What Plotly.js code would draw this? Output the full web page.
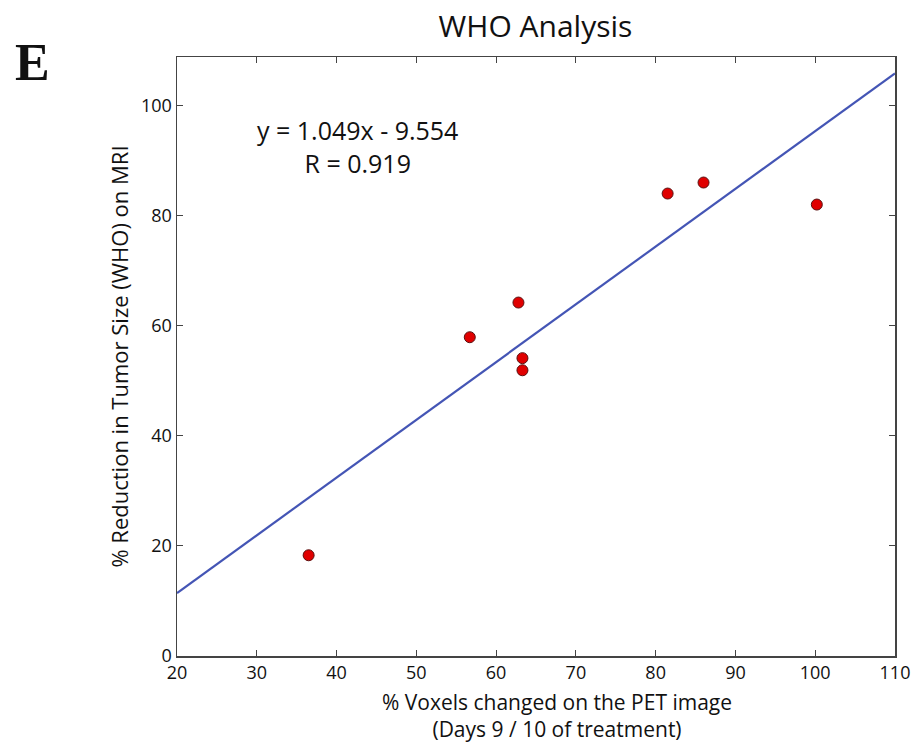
<!DOCTYPE html>
<html>
<head>
<meta charset="utf-8">
<script src="https://cdn.plot.ly/plotly-3.0.1.min.js"></script>
<style>html,body{margin:0;padding:0;background:#fff;}#chart{width:918px;height:744px;}</style>
</head>
<body>
<div id="chart"></div>
<script>
// Data
var voxelsChanged = [36.5, 56.7, 62.8, 63.3, 63.3, 81.5, 86.0, 100.2];
var tumorReduction = [18.3, 57.9, 64.2, 54.1, 51.9, 84.0, 86.0, 82.0];
var fitSlope = 1.049;
var fitIntercept = -9.554;
var fitR = 0.919;
var fitXRange = [20, 110];
var xTicks = [20, 30, 40, 50, 60, 70, 80, 90, 100, 110];
var yTicks = [0, 20, 40, 60, 80, 100];

var fitY = fitXRange.map(function (x) { return fitSlope * x + fitIntercept; });

var font = "Open Sans, DejaVu Sans, sans-serif";
var axisCommon = {
  showgrid: false, zeroline: false,
  showline: true, mirror: "allticks", linecolor: "#444", linewidth: 1.5,
  ticks: "inside", ticklen: 6, tickcolor: "#444", tickwidth: 1.2,
  tickfont: {family: font, size: 18, color: "#111"}
};

var traces = [
  {x: fitXRange, y: fitY, mode: "lines", type: "scatter",
   line: {color: "#4455b5", width: 2.2}, hoverinfo: "skip"},
  {x: voxelsChanged, y: tumorReduction, mode: "markers", type: "scatter",
   marker: {color: "#e00000", size: 11, line: {color: "#5a1010", width: 1}}}
];

var plotL = 177, plotR = 895, plotT = 57, plotB = 656;
var pw = plotR - plotL, ph = plotB - plotT;

var layout = {
  width: 918, height: 744,
  margin: {l: plotL, r: 918 - plotR, t: plotT, b: 744 - plotB},
  paper_bgcolor: "#fff", plot_bgcolor: "#fff",
  showlegend: false,
  title: {text: "WHO Analysis", font: {family: font, size: 30, color: "#111"},
          x: 0.5833, xanchor: "center", y: 1 - 26 / 744, yanchor: "middle"},
  xaxis: Object.assign({}, axisCommon, {
    range: [20, 110], tickvals: xTicks, ticktext: xTicks.map(String)
  }),
  yaxis: Object.assign({}, axisCommon, {
    range: [0, 108.8], tickvals: yTicks, ticktext: yTicks.map(String),
    title: {text: "% Reduction in Tumor Size (WHO) on MRI",
            font: {family: font, size: 22, color: "#111"}, standoff: 6}
  }),
  annotations: [
    {x: 42.65, y: 92.6, xref: "x", yref: "y", showarrow: false,
     text: "y = " + fitSlope.toFixed(3) + "x - " + Math.abs(fitIntercept).toFixed(3) +
           "<br>R = " + fitR.toFixed(3),
     align: "center",
     font: {family: font, size: 25, color: "#111"}, xanchor: "center", yanchor: "middle"},
    {x: (557 - plotL) / pw, y: (plotB - 715) / ph, xref: "paper", yref: "paper",
     showarrow: false, align: "center", xanchor: "center", yanchor: "middle",
     text: "% Voxels changed on the PET image<br>(Days 9 / 10 of treatment)",
     font: {family: font, size: 21, color: "#111"}},
    {x: (32 - plotL) / pw, y: (plotB - 63) / ph, xref: "paper", yref: "paper",
     xanchor: "center", yanchor: "middle", showarrow: false, text: "<b>E</b>",
     font: {family: "Liberation Serif, Times New Roman, serif", size: 52, color: "#111"}}
  ]
};

Plotly.newPlot("chart", traces, layout, {displayModeBar: false, staticPlot: true});
</script>
</body>
</html>
